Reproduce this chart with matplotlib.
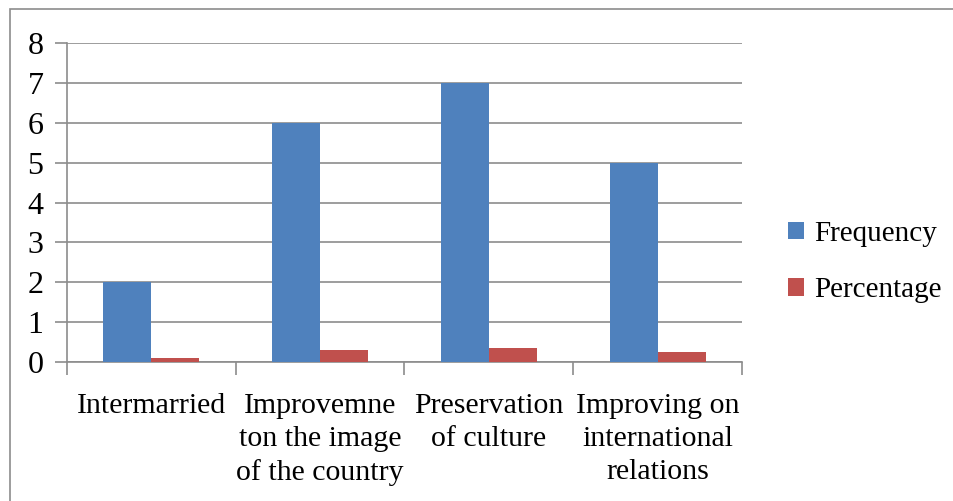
import numpy as np
import matplotlib
matplotlib.use("Agg")
import matplotlib.pyplot as plt
from matplotlib.patches import Rectangle

categories = [
    "Intermarried",
    "Improvemne\nton the image\nof the country",
    "Preservation\nof culture",
    "Improving on\ninternational\nrelations",
]
frequency = [2, 6, 7, 5]
percentage = [0.10, 0.30, 0.35, 0.25]
series_names = ["Frequency", "Percentage"]
y_ticks = [0, 1, 2, 3, 4, 5, 6, 7, 8]

BLUE = "#4F81BD"
RED = "#C0504D"
GRID = "#8C8C8C"

plt.rcParams["font.family"] = ["Liberation Serif", "DejaVu Serif"]

W, H = 954, 501
fig = plt.figure(figsize=(W / 100, H / 100), dpi=100)

# outer chart border (only top and left edges fall inside the image)
fig.patches.append(Rectangle((10 / W, -0.1), 1.2, (H - 9) / H + 0.1,
                             transform=fig.transFigure, fill=False,
                             edgecolor="#8C8C8C", linewidth=1.2))

ax = fig.add_axes([67 / W, (H - 362) / H, (742 - 67) / W, (362 - 43) / H])

x = np.arange(len(categories))
bw = 0.285
ax.bar(x - bw / 2, frequency, width=bw, color=BLUE, label=series_names[0], zorder=3)
ax.bar(x + bw / 2, percentage, width=bw, color=RED, label=series_names[1], zorder=3)

ax.set_xlim(-0.5, len(categories) - 0.5)
ax.set_ylim(0, 8)
ax.set_yticks(y_ticks)
ax.set_yticklabels([str(t) for t in y_ticks], fontsize=23)
ax.yaxis.grid(True, color=GRID, linewidth=1.2, zorder=0)

# category boundaries carry the tick marks, labels sit at centres
ax.set_xticks(np.arange(len(categories) + 1) - 0.5)
ax.set_xticklabels([])
ax.set_xticks(x, minor=True)
ax.set_xticklabels(categories, minor=True, fontsize=21.5, linespacing=1.35)
ax.tick_params(axis="x", which="minor", length=0, pad=22)
ax.tick_params(axis="x", which="major", length=9, width=1.2, color=GRID)
ax.tick_params(axis="y", length=9, width=1.2, color=GRID, pad=8)

for side in ["top", "right"]:
    ax.spines[side].set_visible(False)
for side in ["left", "bottom"]:
    ax.spines[side].set_color(GRID)
    ax.spines[side].set_linewidth(1.2)

fig.legend(loc="center left", bbox_to_anchor=(762 / W, (H - 262) / H),
           frameon=False, fontsize=21, handlelength=0.55, handleheight=0.55,
           handletextpad=0.35, labelspacing=1.05)

fig.savefig("out.png", dpi=100)
